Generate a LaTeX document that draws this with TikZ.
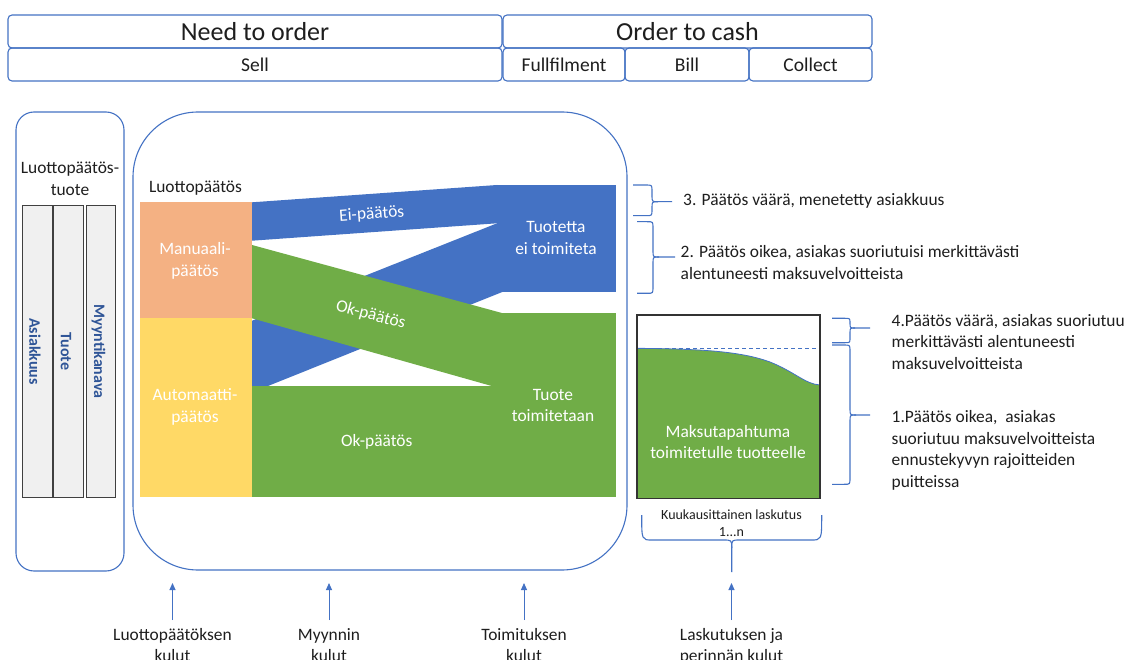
\documentclass[tikz,border=0pt]{standalone}
\usepackage{fontspec}
\setmainfont{Carlito}
\usetikzlibrary{arrows.meta}

\definecolor{boxblue}{RGB}{68,114,196}
\definecolor{flowblue}{RGB}{68,114,196}
\definecolor{flowgreen}{RGB}{112,173,71}
\definecolor{manorange}{RGB}{244,177,131}
\definecolor{autoyellow}{RGB}{255,217,102}
\definecolor{bargrey}{RGB}{240,240,240}
\definecolor{labelblue}{RGB}{47,85,151}
\definecolor{inkgrey}{RGB}{30,30,30}

\newcommand\fsBig{\fontsize{26}{30}\selectfont}
\newcommand\fsMid{\fontsize{19.5}{23}\selectfont}
\newcommand\fsBody{\fontsize{17.4}{21.5}\selectfont}
\newcommand\fsSmall{\fontsize{14}{16.7}\selectfont}
\newcommand\fsBar{\fontsize{16}{19}\selectfont}

% right-pointing curly bracket: ends x, spine x, tip x, top y, middle y, bottom y, radius
\newcommand\curlyright[7]{%
  \draw[bracket] (#1,#4) -- ({#2-#7},#4) .. controls (#2,#4) .. (#2,{#4+#7})
    -- (#2,{#5-#7}) .. controls (#2,#5) .. ({#2+#7},#5) -- (#3,#5);
  \draw[bracket] ({#2+#7},#5) .. controls (#2,#5) .. (#2,{#5+#7})
    -- (#2,{#6-#7}) .. controls (#2,#6) .. ({#2-#7},#6) -- (#1,#6);}

\begin{document}
\begin{tikzpicture}[x=1pt,y=-1pt,
  font=\fsBody, text=inkgrey,
  hdrbox/.style={draw=boxblue, line width=1.1pt, rounded corners=4pt,
    inner sep=0pt, minimum height=33pt},
  panel/.style={draw=boxblue, line width=1.1pt, inner sep=0pt},
  barbox/.style={draw=black!75, line width=1pt, fill=bargrey},
  bartext/.style={rotate=-90, inner sep=0pt, font=\fsBar\bfseries, text=labelblue},
  flowlabel/.style={text=white, align=center, inner sep=0pt},
  notetext/.style={anchor=west, align=left, inner sep=0pt},
  costlabel/.style={align=center, anchor=north, inner sep=5pt},
  costarrow/.style={draw=boxblue, line width=1pt, -{Triangle[width=6pt,length=7pt]}},
  bracket/.style={draw=boxblue, line width=1.1pt, line join=round}
]
\fill[white] (0,0) rectangle (1127,660);
\useasboundingbox (0,0) rectangle (1127,660);

% process header
\node[hdrbox, minimum width=494pt, font=\fsBig] (needorder) at (255,31.5) {Need to order};
\node[hdrbox, minimum width=369pt, font=\fsBig] (ordercash) at (687.5,31.5) {Order to cash};
\node[hdrbox, minimum width=494pt, font=\fsMid] (sell) at (255,64.5) {Sell};
\node[hdrbox, minimum width=122pt, font=\fsMid] (fulfil) at (564,64.5) {Fullfilment};
\node[hdrbox, minimum width=124pt, font=\fsMid] (bill) at (687,64.5) {Bill};
\node[hdrbox, minimum width=123pt, font=\fsMid] (collect) at (810.5,64.5) {Collect};

% credit decision product panel
\node[panel, rounded corners=18pt, minimum width=108pt, minimum height=459pt] (prodpanel) at (70,341.5) {};
\node[align=center, inner sep=0pt] (prodtitle) at (70,179) {Luottopäätös-\\tuote};
\draw[barbox] (22,206) rectangle (52,497);
\draw[barbox] (53,206) rectangle (83,497);
\draw[barbox] (86,206) rectangle (115,497);
\node[bartext] (barcust) at (35,351.5) {Asiakkuus};
\node[bartext] (barprod) at (66,351.5) {Tuote};
\node[bartext] (barchan) at (98.5,351.5) {Myyntikanava};

% decision flow panel
\node[panel, rounded corners=65pt, minimum width=494pt, minimum height=458pt] (flowpanel) at (380,341) {};
\node[inner sep=0pt] (decision) at (195.5,188) {Luottopäätös};

\fill[manorange] (140,202.3) rectangle (252,318);
\fill[autoyellow] (140,318) rectangle (252,496.7);
\fill[flowblue] (252,320.7) -- (497,223.3) -- (503,291.7) -- (268,386) -- (252,386) -- cycle;
\fill[flowblue] (252,202.3) -- (497,185) -- (497,223.3) -- (252,240.7) -- cycle;
\fill[flowblue] (497,185) rectangle (615.7,291.7);
\fill[flowgreen] (497,313.3) rectangle (615.7,496.7);
\fill[flowgreen] (252,386) rectangle (497,496.7);
\fill[flowgreen] (252,245) -- (503,313.3) -- (503,386) -- (491.7,386) -- (252,318.3) -- cycle;

\node[flowlabel] (manual) at (195,260.7) {Manuaali-\\päätös};
\node[flowlabel] (automatic) at (195,406.7) {Automaatti-\\päätös};
\node[flowlabel, rotate=4] (nodecision) at (371.7,214.3) {Ei-päätös};
\node[flowlabel, rotate=-15] (okmanual) at (370.7,315) {Ok-päätös};
\node[flowlabel] (okauto) at (376.7,441.7) {Ok-päätös};
\node[flowlabel] (notdelivered) at (556,238) {Tuotetta\\ei toimiteta};
\node[flowlabel] (delivered) at (553,405.7) {Tuote\\toimitetaan};

% payment behaviour over monthly invoices
\fill[flowgreen] (637,348.3) .. controls (700,349) and (740,351) .. (770,362)
  .. controls (795,372) and (805,384) .. (820,385) -- (820,498.3) -- (637,498.3) -- cycle;
\draw[boxblue, line width=0.8pt] (637,348.3) .. controls (700,349) and (740,351) .. (770,362)
  .. controls (795,372) and (805,384) .. (820,385);
\draw[boxblue, line width=0.9pt, dash pattern=on 4pt off 3pt] (637,348.3) -- (820,348.3);
\node[draw=black!80, line width=1.3pt, inner sep=0pt, minimum width=183pt, minimum height=183.3pt] (paybox) at (728.5,406.65) {};
\node[flowlabel] (payment) at (728,442.2) {Maksutapahtuma\\toimitetulle tuotteelle};
\node[align=center, inner sep=0pt, font=\fsSmall] (billing) at (731.5,523.5) {Kuukausittainen laskutus\\1...n};

% outcome brackets
\curlyright{633}{652}{672}{185}{201.7}{215.7}{6}
\curlyright{637}{653}{675}{221.7}{257}{293.3}{6}
\curlyright{832}{850}{870}{318.3}{328}{342.7}{5}
\curlyright{832}{850}{870}{345}{415}{484.3}{6}
\draw[bracket] (641.7,515) .. controls (641.7,540) .. (652,540) -- (723,540)
  .. controls (731.7,540) .. (731.7,548) -- (731.7,572);
\draw[bracket] (821.7,515) .. controls (821.7,540) .. (811,540) -- (740,540)
  .. controls (731.7,540) .. (731.7,548);

\node[notetext] (case3) at (683,201) {3. Päätös väärä, menetetty asiakkuus};
\node[notetext] (case2) at (680.5,262.5) {2. Päätös oikea, asiakas suoriutuisi merkittävästi\\alentuneesti maksuvelvoitteista};
\node[notetext] (case4) at (891.5,341.7) {4.Päätös väärä, asiakas suoriutuu\\merkittävästi alentuneesti\\maksuvelvoitteista};
\node[notetext] (case1) at (891.5,450.5) {1.Päätös oikea,~ asiakas\\suoriutuu maksuvelvoitteista\\ennustekyvyn rajoitteiden\\puitteissa};

% cost drivers
\node[costlabel] (costdecision) at (172.5,620) {\strut Luottopäätöksen\\kulut};
\node[costlabel] (costsales) at (329,620) {\strut Myynnin\\kulut};
\node[costlabel] (costdelivery) at (524,620) {\strut Toimituksen\\kulut};
\node[costlabel] (costbilling) at (731.5,620) {\strut Laskutuksen ja\\perinnän kulut};
\coordinate (tipdecision) at (172.5,583);
\coordinate (tipsales) at (329,583);
\coordinate (tipdelivery) at (524,583);
\coordinate (tipbilling) at (731.5,583);
\draw[costarrow] (costdecision.north) -- (tipdecision);
\draw[costarrow] (costsales.north) -- (tipsales);
\draw[costarrow] (costdelivery.north) -- (tipdelivery);
\draw[costarrow] (costbilling.north) -- (tipbilling);
\end{tikzpicture}
\end{document}
